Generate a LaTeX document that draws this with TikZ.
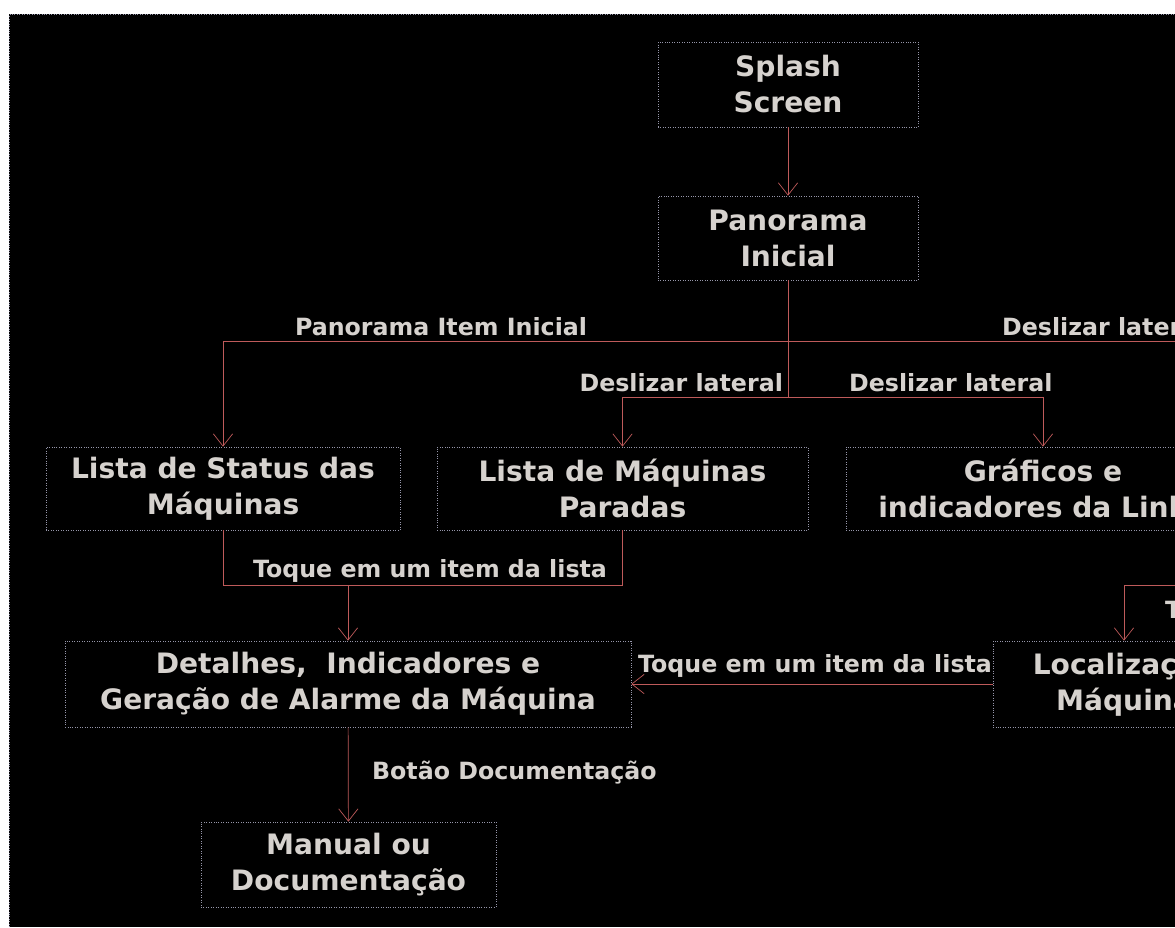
\documentclass[tikz,border=0pt]{standalone}
\usepackage{fontspec}
\setmainfont{DejaVu Sans}
\usetikzlibrary{arrows.meta}
\definecolor{texto}{RGB}{214,210,206}
\definecolor{traco}{RGB}{190,90,90}
\definecolor{borda}{RGB}{150,150,170}

\begin{document}
\begin{tikzpicture}[x=0.02cm,y=-0.02cm,
  caixa/.style={draw=borda, densely dotted, text=texto, font=\fontsize{16}{20.5}\selectfont\bfseries, align=center, inner sep=0pt},
  rotulo/.style={text=texto, font=\fontsize{13.5}{15}\selectfont\bfseries, inner sep=1pt},
  seta/.style={draw=traco, -{Straight Barb[length=7pt,width=11pt]}},
  ligacao/.style={draw=traco}]
\useasboundingbox (0,0) rectangle (1175,927);
\clip (0,0) rectangle (1175,927);
\fill[white] (0,0) rectangle (1175,927);
\fill[black] (9,14) rectangle (1175,927);
\draw[borda, densely dotted] (9.5,927) -- (9.5,14.5) -- (1175,14.5);

\node[caixa, minimum width=5.2cm, minimum height=1.7cm] (splash) at (788,84.5) {Splash\\Screen};
\node[caixa, minimum width=5.2cm, minimum height=1.68cm] (panorama) at (788,238) {Panorama\\Inicial};
\node[caixa, minimum width=7.08cm, minimum height=1.66cm] (status) at (223,488.5) {Lista de Status das\\Máquinas};
\node[caixa, minimum width=7.42cm, minimum height=1.66cm] (paradas) at (622.5,488.5) {Lista de Máquinas\\Paradas};
\node[caixa, minimum width=7.88cm, minimum height=1.66cm] (graficos) at (1043,488.5) {Gráficos e\\indicadores da Linha};
\node[caixa, minimum width=11.32cm, minimum height=1.72cm] (detalhes) at (348,684) {Detalhes,\ \ Indicadores e\\Geração de Alarme da Máquina};
\node[caixa, minimum width=5.24cm, minimum height=1.72cm] (local) at (1124,684) {Localização\\Máquina};
\node[caixa, minimum width=5.9cm, minimum height=1.7cm] (manual) at (348.5,864.5) {Manual ou\\Documentação};

\coordinate (h1) at (788,341);
\coordinate (h2) at (788,397);
\coordinate (h3) at (348,585);
\coordinate (d1) at (1200,341);
\coordinate (d2) at (1200,585);

\draw[seta] (splash) -- (panorama);
\draw[seta] (panorama) -- (h1) -| (status);
\draw[ligacao] (h1) -- (d1);
\draw[ligacao] (h1) -- (h2);
\draw[seta] (h2) -| (paradas);
\draw[seta] (h2) -| (graficos);
\draw[ligacao] (status) |- (h3);
\draw[ligacao] (paradas) |- (h3);
\draw[seta] (h3) -- (detalhes);
\draw[seta] (d2) -| (local);
\draw[seta] (local) -- (detalhes);
\draw[seta] (detalhes) -- (manual);

\node[rotulo] (l1) at (441,327) {Panorama Item Inicial};
\node[rotulo, anchor=west] (l2) at (1000,327) {Deslizar lateral};
\node[rotulo, anchor=east] (l3) at (785,383) {Deslizar lateral};
\node[rotulo, anchor=west] (l4) at (847,383) {Deslizar lateral};
\node[rotulo] (l5) at (430,571) {Toque em um item da lista};
\node[rotulo] (l6) at (815,666) {Toque em um item da lista};
\node[rotulo, anchor=west] (l7) at (370,773) {Botão Documentação};
\node[rotulo, anchor=west] (l8) at (1163,612) {Toque};
\end{tikzpicture}
\end{document}
